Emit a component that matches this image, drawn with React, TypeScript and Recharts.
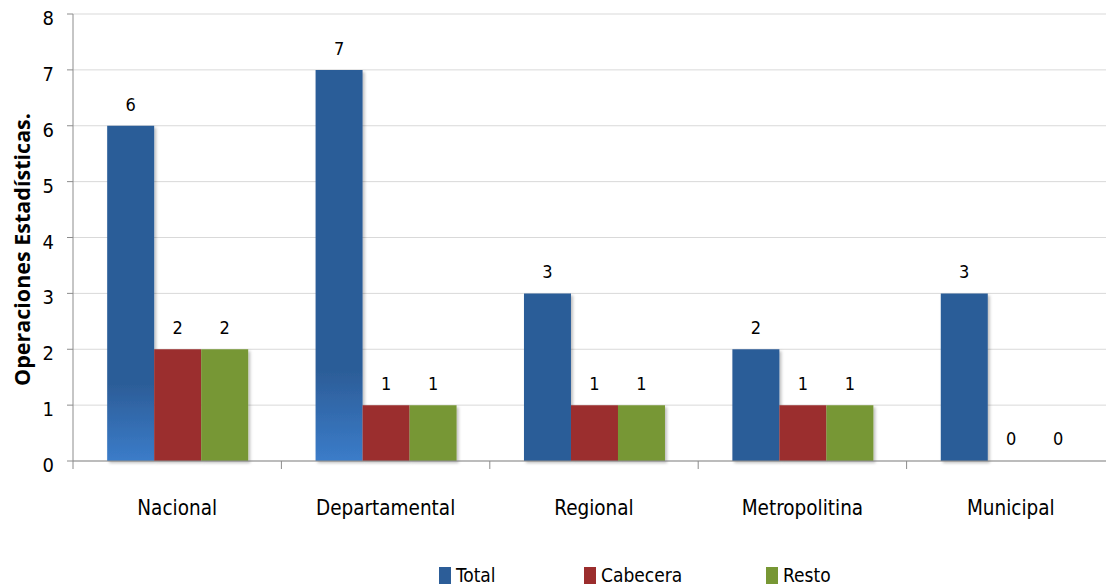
import React from 'react';
import { BarChart, Bar, XAxis, YAxis, CartesianGrid, Legend, LabelList, Cell } from 'recharts';

const categories = ['Nacional', 'Departamental', 'Regional', 'Metropolitina', 'Municipal'];
const totalValues = [6, 7, 3, 2, 3];
const cabeceraValues = [2, 1, 1, 1, 0];
const restoValues = [2, 1, 1, 1, 0];
const yTicks = [0, 1, 2, 3, 4, 5, 6, 7, 8];

const seriesInfo = [
  { key: 'total', name: 'Total', color: '#2c5d98', legendWidth: 145 },
  { key: 'cabecera', name: 'Cabecera', color: '#9b2d2d', legendWidth: 182 },
  { key: 'resto', name: 'Resto', color: '#779734', legendWidth: 100 },
];

// bars that show the lighter blue fade at the bottom
const gradientBars = ['Nacional', 'Departamental'];

const data = categories.map((name, i) => ({
  name,
  total: totalValues[i],
  cabecera: cabeceraValues[i],
  resto: restoValues[i],
}));

const FONT = '"Liberation Sans Narrow", "DejaVu Sans Condensed", Roboto, sans-serif';

const CategoryTick = (props: any) => {
  const { x, y, payload } = props;
  const half = payload?.offset ?? 104;
  return (
    <g>
      <line x1={x - half} x2={x - half} y1={y} y2={y + 8} stroke="#8c8c8c" />
      <text
        x={x}
        y={y + 47}
        textAnchor="middle"
        dominantBaseline="central"
        fontFamily={FONT}
        fontSize={20.5}
        fill="#000"
      >
        {payload.value}
      </text>
    </g>
  );
};

const ValueTick = (props: any) => {
  const { x, y, payload } = props;
  return (
    <text x={x} y={y + 4} textAnchor="end" dominantBaseline="central" fontFamily={FONT} fontSize={20} fill="#000">
      {payload.value}
    </text>
  );
};

const LegendContent = () => (
  <div style={{ display: 'flex', marginLeft: 431, fontFamily: FONT, fontSize: 19, lineHeight: '26px' }}>
    {seriesInfo.map((s) => (
      <div key={s.key} style={{ display: 'flex', alignItems: 'center', width: s.legendWidth }}>
        <span style={{ width: 12, height: 17, background: s.color, marginRight: 5, display: 'inline-block' }} />
        <span style={{ color: '#000' }}>{s.name}</span>
      </div>
    ))}
  </div>
);

const AxisTitle = (props: any) => {
  const vb = props.viewBox || {};
  const cy = (vb.y ?? 0) + (vb.height ?? 0) / 2 + 12;
  return (
    <text
      x={21}
      y={cy}
      transform={`rotate(-90, 21, ${cy})`}
      textAnchor="middle"
      dominantBaseline="central"
      fontFamily='"Open Sans", "DejaVu Sans", sans-serif'
      fontWeight="bold"
      fontSize={21.5}
      fill="#000"
    >
      Operaciones Estadísticas.
    </text>
  );
};

export default function App() {
  return (
    <div style={{ position: 'absolute', top: 0, left: 0, width: 1106, height: 588, overflow: 'hidden' }}>
      <BarChart
        width={1118}
        height={588}
        data={data}
        margin={{ top: 14, right: 3, left: 8, bottom: 0 }}
        barCategoryGap="16.4%"
        barGap={0}
      >
        <defs>
          <linearGradient id="blueFade" x1="0" y1="0" x2="0" y2="1">
            <stop offset="0" stopColor="#2c5d98" />
            <stop offset="0.77" stopColor="#2c5d98" />
            <stop offset="1" stopColor="#3b7cc9" />
          </linearGradient>
          <filter id="barShadow" x="-10%" y="-10%" width="130%" height="130%">
            <feDropShadow dx="2" dy="2" stdDeviation="1.5" floodColor="#000" floodOpacity="0.25" />
          </filter>
        </defs>
        <CartesianGrid vertical={false} stroke="#d9d9d9" />
        <XAxis
          dataKey="name"
          height={101}
          stroke="#8c8c8c"
          tickLine={false}
          tickSize={0}
          tickMargin={0}
          interval={0}
          tick={<CategoryTick />}
        />
        <YAxis
          width={65}
          domain={[0, 8]}
          ticks={yTicks}
          stroke="#8c8c8c"
          tickSize={6}
          tickMargin={13}
          interval={0}
          tick={<ValueTick />}
          label={<AxisTitle />}
        />
        <Legend verticalAlign="bottom" height={26} content={<LegendContent />} />
        {seriesInfo.map((s) => (
          <Bar
            key={s.key}
            dataKey={s.key}
            name={s.name}
            fill={s.color}
            minPointSize={1}
            isAnimationActive={false}
          >
            {data.map((d) => {
              const v = (d as any)[s.key];
              const fill =
                v === 0
                  ? 'transparent'
                  : s.key === 'total' && gradientBars.includes(d.name)
                  ? 'url(#blueFade)'
                  : s.color;
              return <Cell key={d.name} fill={fill} filter={v === 0 ? undefined : 'url(#barShadow)'} />;
            })}
            <LabelList dataKey={s.key} position="top" offset={15} fill="#000" fontSize={18} fontFamily={FONT} />
          </Bar>
        ))}
      </BarChart>
    </div>
  );
}
